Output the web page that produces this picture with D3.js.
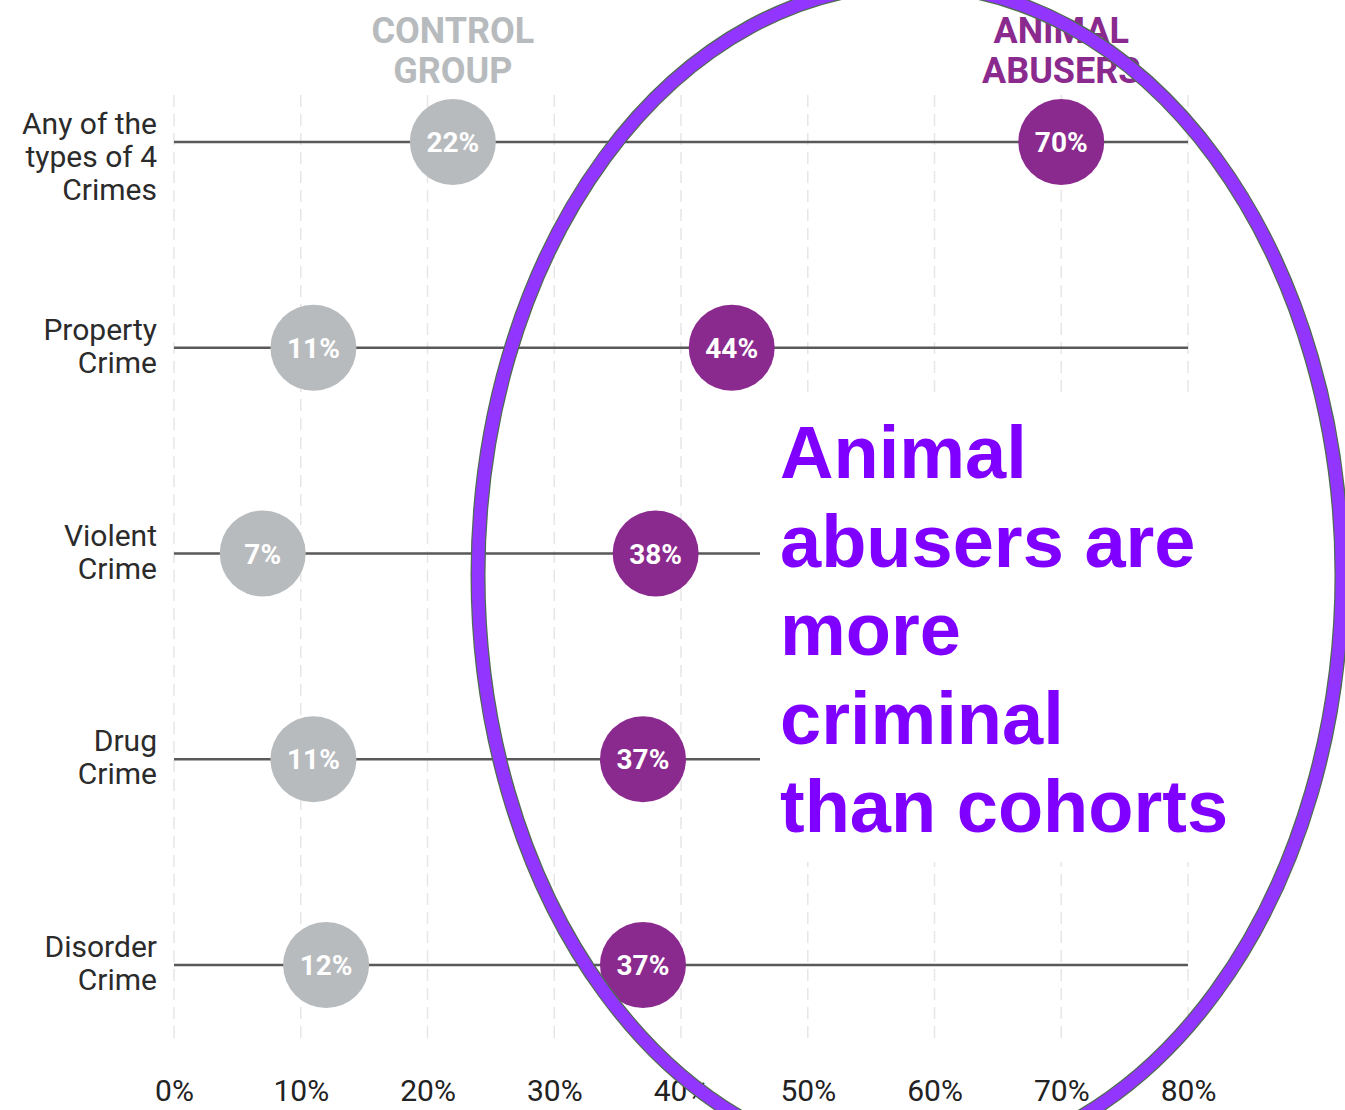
<!DOCTYPE html>
<html>
<head>
<meta charset="utf-8">
<script src="https://cdn.jsdelivr.net/npm/d3@7"></script>
<style>
  body { margin: 0; background: #fff; }
  svg { display: block; }
</style>
</head>
<body>
<div id="chart"></div>
<script>
var width = 1345,
    height = 1110;

// data
var crimes = ["Any of the types of 4 Crimes", "Property Crime", "Violent Crime", "Drug Crime", "Disorder Crime"];
var crimeLines = [["Any of the", "types of 4", "Crimes"], ["Property", "Crime"], ["Violent", "Crime"], ["Drug", "Crime"], ["Disorder", "Crime"]];
var controlGroup = [22, 11, 7, 11, 12];
var animalAbusers = [70, 44, 38, 37, 37];
var ticks = [0, 10, 20, 30, 40, 50, 60, 70, 80];
var seriesNames = [["CONTROL", "GROUP"], ["ANIMAL", "ABUSERS"]];
var noteLines = ["Animal", "abusers are", "more", "criminal", "than cohorts"];

var colours = {
    control: "#b8bbbd",
    abusers: "#8b2a8e",
    line: "#595959",
    grid: "#e6e6e6",
    note: "#8000ff",
    ring: "#9236ff",
    ringEdge: "#4f6a52"
};

var svg = d3.select("#chart")
    .append("svg")
    .attr("width", width)
    .attr("height", height);

var x = d3.scaleLinear()
    .domain([0, 80])
    .range([174, 1188]);

var y = d3.scalePoint()
    .domain(crimes)
    .range([142, 965]);

var r = 43;

// dashed grid lines
svg.append("g")
    .selectAll("line")
    .data(ticks)
    .enter().append("line")
    .attr("x1", d => x(d))
    .attr("x2", d => x(d))
    .attr("y1", 95)
    .attr("y2", 1045)
    .style("stroke", colours.grid)
    .style("stroke-width", 1.5)
    .style("stroke-dasharray", "12,7");

// x axis labels
var xAxis = d3.axisBottom(x)
    .tickValues(ticks)
    .tickFormat(d => d + "%")
    .tickSize(0)
    .tickPadding(0);

var gX = svg.append("g")
    .attr("transform", "translate(0,1080)")
    .call(xAxis);
gX.select(".domain").remove();
gX.selectAll("text")
    .style("font-family", "Roboto")
    .style("font-size", "30px")
    .style("fill", "#222")
    .attr("dy", "0.71em");

// row lines
svg.append("g")
    .selectAll("line")
    .data(crimes)
    .enter().append("line")
    .attr("x1", x(0))
    .attr("x2", x(80))
    .attr("y1", d => y(d))
    .attr("y2", d => y(d))
    .style("stroke", colours.line)
    .style("stroke-width", 2.5);

// row labels
var labels = svg.append("g")
    .selectAll("text")
    .data(crimes)
    .enter().append("text")
    .attr("text-anchor", "end")
    .style("font-family", "Roboto")
    .style("font-size", "30px")
    .style("fill", "#2b2b2b");

labels.each(function(d, i) {
    var t = d3.select(this);
    crimeLines[i].forEach(function(line, j) {
        t.append("tspan")
            .attr("x", 157)
            .attr("y", y(d) - 8 + j * 33)
            .text(line);
    });
});

// dots
function drawDots(values, fill) {
    var g = svg.append("g");
    g.selectAll("circle")
        .data(values)
        .enter().append("circle")
        .attr("cx", d => x(d))
        .attr("cy", (d, i) => y(crimes[i]))
        .attr("r", r)
        .style("fill", fill);
    g.selectAll("text")
        .data(values)
        .enter().append("text")
        .attr("x", d => x(d))
        .attr("y", (d, i) => y(crimes[i]))
        .attr("dy", "0.36em")
        .attr("text-anchor", "middle")
        .style("font-family", "Roboto")
        .style("font-weight", "bold")
        .style("font-size", "28px")
        .style("fill", "#fff")
        .text(d => d + "%");
}
drawDots(controlGroup, colours.control);
drawDots(animalAbusers, colours.abusers);

// series headers above first row
var headerX = [x(controlGroup[0]), x(animalAbusers[0])];
var headerFill = [colours.control, colours.abusers];
seriesNames.forEach(function(name, k) {
    name.forEach(function(line, j) {
        svg.append("text")
            .attr("x", headerX[k])
            .attr("y", 43 + j * 40)
            .attr("text-anchor", "middle")
            .style("font-family", "Roboto")
            .style("font-weight", "bold")
            .style("font-size", "36px")
            .style("fill", headerFill[k])
            .text(line);
    });
});

// white box behind the note
svg.append("rect")
    .attr("x", 760)
    .attr("y", 394)
    .attr("width", 585)
    .attr("height", 468)
    .style("fill", "#fff");

svg.append("g")
    .selectAll("text")
    .data(noteLines)
    .enter().append("text")
    .attr("x", 780)
    .attr("y", (d, i) => 478 + i * 88.5)
    .style("font-family", "'Liberation Sans', Arial, sans-serif")
    .style("font-weight", "bold")
    .style("font-size", "74px")
    .style("fill", colours.note)
    .text(d => d);

// the ring
svg.append("ellipse")
    .attr("cx", 910)
    .attr("cy", 575)
    .attr("rx", 432)
    .attr("ry", 590)
    .style("fill", "none")
    .style("stroke", colours.ringEdge)
    .style("stroke-width", 15);

svg.append("ellipse")
    .attr("cx", 910)
    .attr("cy", 575)
    .attr("rx", 432)
    .attr("ry", 590)
    .style("fill", "none")
    .style("stroke", colours.ring)
    .style("stroke-width", 12.5);
</script>
</body>
</html>
